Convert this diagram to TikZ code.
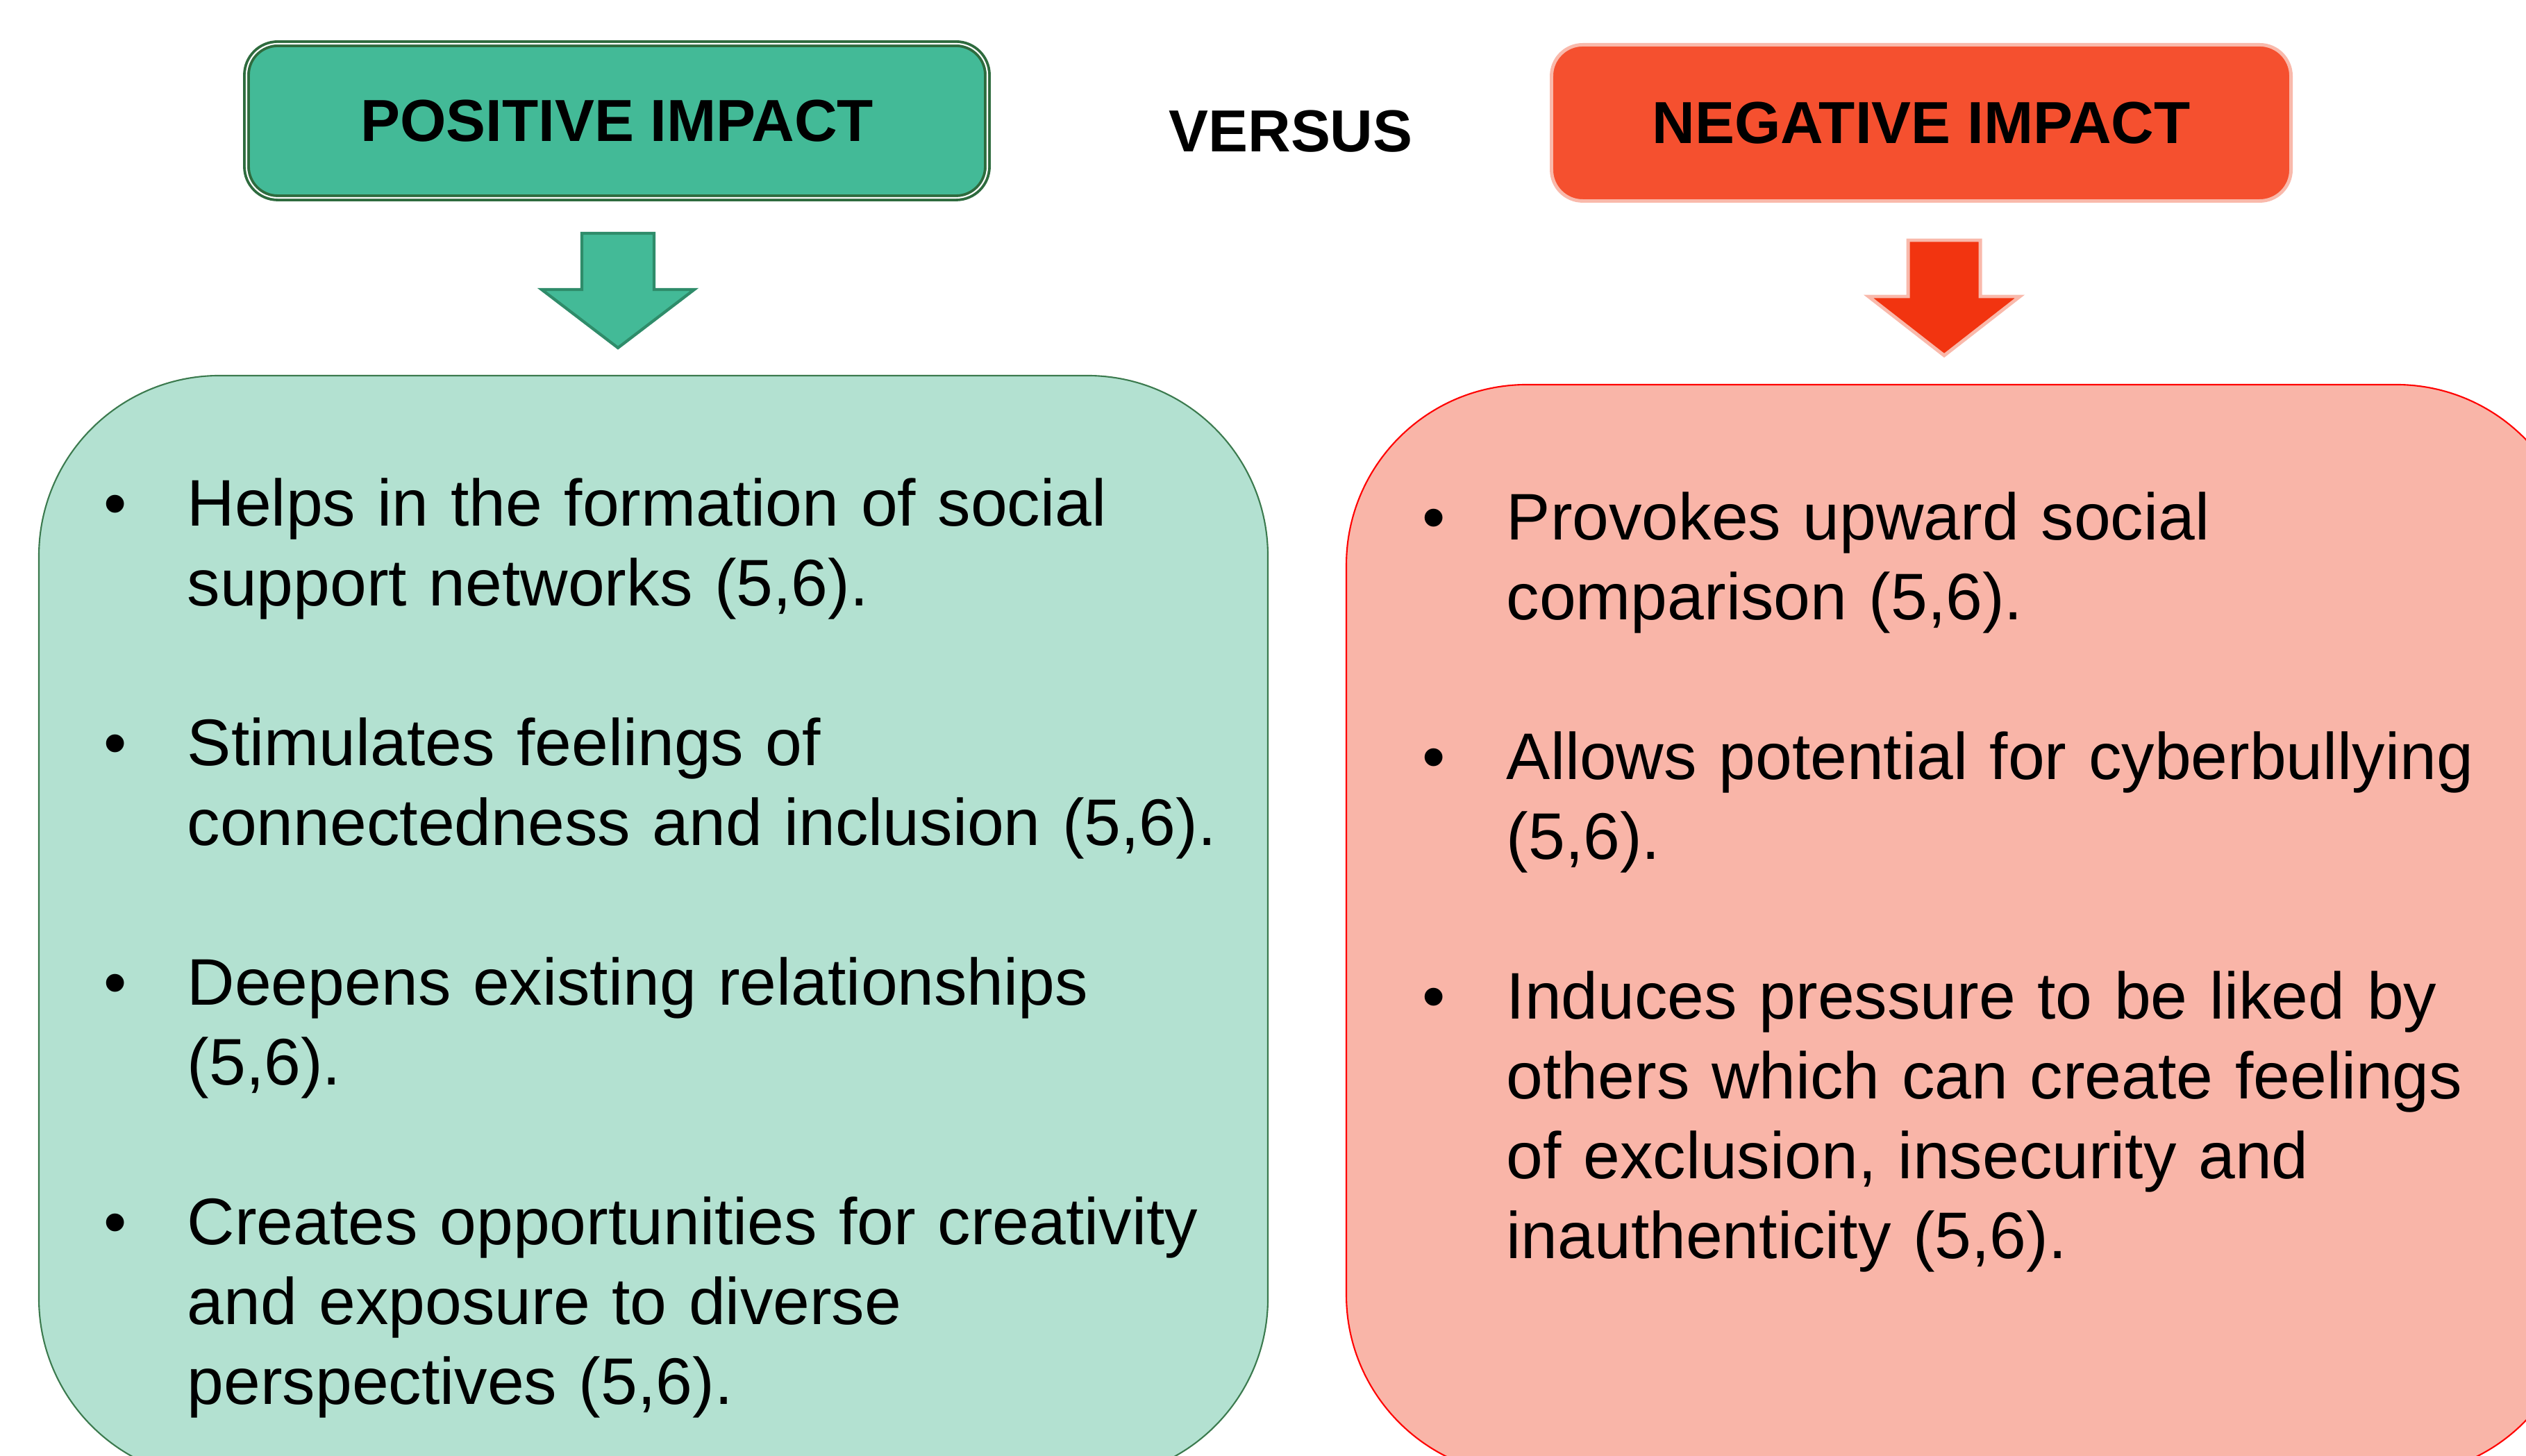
\documentclass[tikz,border=0pt]{standalone}
\usepackage{fontspec}
\setmainfont{Liberation Sans}
\usepackage{tikz}

\definecolor{posfill}{RGB}{67,186,151}
\definecolor{posline}{RGB}{46,107,62}
\definecolor{posarrowline}{RGB}{47,140,106}
\definecolor{poslight}{RGB}{179,225,209}
\definecolor{poslightline}{RGB}{59,122,78}
\definecolor{negfill}{RGB}{245,80,47}
\definecolor{negline}{RGB}{249,185,171}
\definecolor{negarrowfill}{RGB}{242,52,16}
\definecolor{neglight}{RGB}{249,181,168}
\definecolor{neglightline}{RGB}{255,0,0}

\tikzset{
	headbox/.style={rounded corners=0.45cm, inner sep=0pt, font=\fontsize{24.3}{28}\selectfont\bfseries},
	bodybox/.style={rounded corners=2.6cm, inner sep=0pt, line width=0.6pt},
	item/.style={anchor=base west, inner sep=0pt, text width=15.4cm, align=left, font=\fontsize{27}{32.7}\selectfont},
	dot/.style={anchor=base, inner sep=0pt, font=\fontsize{27}{32.7}\selectfont},
}

\begin{document}
\begin{tikzpicture}
		\fill[white] (0,0) rectangle (36.38,20.97);
		\useasboundingbox (0,0) rectangle (36.38,20.97);
		\clip (0,0) rectangle (36.38,20.97);
		%
		% headings
		\node[headbox, fill=posfill, draw=posline, line width=1.1pt, double=white, double distance=0.6pt,
			minimum width=10.67cm, minimum height=2.22cm] (P) at (8.885,19.23) {POSITIVE IMPACT};
		\node[headbox, fill=negfill, draw=negline, line width=1.4pt,
			minimum width=10.65cm, minimum height=2.25cm] (N) at (27.67,19.20) {NEGATIVE IMPACT};
		\node[inner sep=0pt, font=\fontsize{24.3}{28}\selectfont\bfseries] (V) at (18.59,19.075) {VERSUS};
		%
		% block arrows
		\coordinate (PA) at (8.90,17.61);
		\coordinate (NA) at (28.00,17.51);
		\draw[fill=posfill, draw=posarrowline, line width=1.2pt, line join=miter]
		(PA) ++(-0.52,0) -- ++(1.04,0) -- ++(0,-0.81) -- ++(0.58,0)
		-- ++(-1.10,-0.84) -- ++(-1.10,0.84) -- ++(0.58,0) -- cycle;
		\draw[fill=negarrowfill, draw=negline, line width=1.4pt, line join=miter]
		(NA) ++(-0.52,0) -- ++(1.04,0) -- ++(0,-0.81) -- ++(0.57,0)
		-- ++(-1.09,-0.85) -- ++(-1.09,0.85) -- ++(0.57,0) -- cycle;
		%
		% lists
		\node[bodybox, fill=poslight, draw=poslightline, minimum width=17.70cm, minimum height=15.89cm] (PB) at (9.41,7.615) {};
		\node[bodybox, fill=neglight, draw=neglightline, minimum width=17.72cm, minimum height=15.71cm] (NB) at (28.25,7.575) {};
		%
		\node[dot] (p1b) at (1.66,13.39) {\textbullet};
		\node[item] (p1) at (2.69,13.39) {Helps in the formation of social\\support networks (5,6).};
		\node[dot] (p2b) at (1.66,9.94) {\textbullet};
		\node[item] (p2) at (2.69,9.94) {Stimulates feelings of\\connectedness and inclusion (5,6).};
		\node[dot] (p3b) at (1.66,6.49) {\textbullet};
		\node[item] (p3) at (2.69,6.49) {Deepens existing relationships\\(5,6).};
		\node[dot] (p4b) at (1.66,3.04) {\textbullet};
		\node[item] (p4) at (2.69,3.04) {Creates opportunities for creativity\\and exposure to diverse\\perspectives (5,6).};
		%
		\node[dot] (n1b) at (20.65,13.19) {\textbullet};
		\node[item] (n1) at (21.69,13.19) {Provokes upward social\\comparison (5,6).};
		\node[dot] (n2b) at (20.65,9.74) {\textbullet};
		\node[item] (n2) at (21.69,9.74) {Allows potential for cyberbullying\\(5,6).};
		\node[dot] (n3b) at (20.65,6.29) {\textbullet};
		\node[item] (n3) at (21.69,6.29) {Induces pressure to be liked by\\others which can create feelings\\of exclusion, insecurity and\\inauthenticity (5,6).};
	\end{tikzpicture}
\end{document}
